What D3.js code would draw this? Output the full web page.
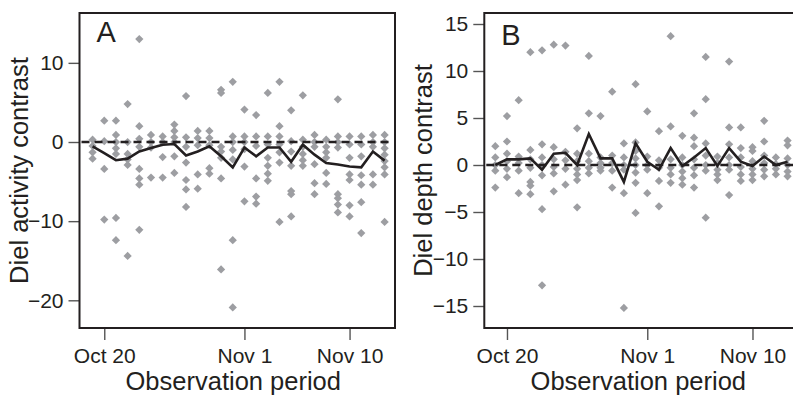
<!DOCTYPE html>
<html>
<head>
<meta charset="utf-8">
<script src="https://cdn.jsdelivr.net/npm/d3@7"></script>
<style>
  body { margin: 0; background: #fff; }
  text { font-family: "Liberation Sans", Arial, sans-serif; fill: #231f20; }
</style>
</head>
<body>
<script>
const width = 793, height = 397;

// observation days (one column of points per day)
const days = [
  "2010-10-19", "2010-10-20", "2010-10-21", "2010-10-22", "2010-10-23", "2010-10-24",
  "2010-10-25", "2010-10-26", "2010-10-27", "2010-10-28", "2010-10-29", "2010-10-30",
  "2010-10-31", "2010-11-01", "2010-11-02", "2010-11-03", "2010-11-04", "2010-11-05",
  "2010-11-06", "2010-11-07", "2010-11-08", "2010-11-09", "2010-11-10", "2010-11-11",
  "2010-11-12", "2010-11-13"
];
const dateTicks = ["2010-10-20", "2010-11-01", "2010-11-10"];
const dateTickLabels = ["Oct 20", "Nov 1", "Nov 10"];

// panel A: diel activity contrast, individual values per day
const activity = [
  [0.3, -0.5, -1.3, -2.1],
  [2.7, 0.1, -3.4, -9.8],
  [2.7, 0.9, 0, -0.8, -1.5, -9.6, -12.4],
  [4.8, 0, -1.5, -2.2, -2.9, -14.4],
  [13.0, 2.0, 0.4, -0.6, -3.4, -4.6, -5.4, -11.1],
  [0.9, 0, -0.7, -4.5],
  [0.7, 0, -1.9, -4.5],
  [2.2, 1.4, 0.6, 0, -1.8, -3.9],
  [5.8, 0.6, -0.6, -2.6, -4.8, -6.0, -8.2],
  [1.4, 0.5, -0.4, -4.1, -5.9],
  [1.4, 0.5, -0.4, -3.3, -4.0],
  [6.6, 6.2, -0.6, -1.2, -2.0, -4.6, -16.1],
  [7.6, 0.7, 0, -1.0, -2.2, -12.4, -20.9],
  [4.1, 0.7, 0, -0.9, -3.1, -7.5],
  [3.4, 0.7, -0.5, -4.6, -6.9, -7.8],
  [6.2, 0.7, -0.3, -2.0, -3.0, -4.0, -4.9],
  [7.6, 2.0, 0.7, -0.3, -1.3, -2.6, -10.1],
  [4.0, 0.1, -1.2, -3.0, -6.2, -6.6, -9.4],
  [5.9, 0.3, -0.6, -1.5, -2.3, -3.0],
  [0.9, 0, -0.6, -2.8, -5.2, -6.6],
  [0.3, -0.6, -1.3, -2.0, -3.9, -5.3],
  [5.4, 0.7, 0, -0.7, -6.6, -7.1, -7.9, -8.9],
  [0.7, -0.3, -2.0, -4.1, -4.8, -8.0, -9.4],
  [0.7, -0.3, -1.8, -4.2, -5.4, -7.6, -11.5],
  [0.9, 0, -0.6, -4.1, -5.4],
  [0.9, 0, -0.8, -1.6, -2.4, -3.2, -4.1, -10.1]
];
const activityMean = [
  -0.55, -1.4, -2.3, -2.1, -1.2, -0.75, -0.35, -0.25, -1.7, -1.2, -0.55, -1.8, -3.2,
  -0.7, -1.8, -0.7, -0.7, -2.5, -0.35, -1.6, -2.65, -2.85, -3.1, -3.2, -1.2, -2.35
];

// panel B: diel depth contrast, individual values per day
const depth = [
  [2.0, 0.8, 0, -0.6, -2.4],
  [5.2, 2.5, 1.2, 0.4, -0.4, -1.3],
  [6.9, 0.9, 0.2, -0.6, -3.0],
  [12.0, 1.6, 0.6, -0.3, -1.8, -2.2, -3.1],
  [12.2, 2.2, 0.8, 0, -1.1, -4.7, -12.8],
  [12.8, 1.9, 0.6, -0.2, -0.9, -2.8],
  [12.7, 1.4, 0.5, -0.4, -2.1],
  [3.9, 1.2, 0.4, -0.4, -1.0, -1.6, -4.5],
  [11.6, 5.5, 1.2, 0.4, -0.3, -0.9],
  [5.2, 0.8, 0.2, -0.3, -0.6],
  [7.8, 1.0, 0.2, -0.6, -2.4],
  [2.3, 0.8, 0, -0.5, -3.0, -15.2],
  [8.6, 2.4, 1.5, 0.7, 0, -0.8, -1.9, -5.1],
  [5.7, 0.9, 0, -0.5, -3.0],
  [3.6, 0.5, -0.3, -1.7, -4.4],
  [13.7, 4.1, 0.6, -0.3, -1.0, -1.9],
  [3.1, 0.8, 0, -0.7, -1.4, -2.1],
  [5.5, 2.9, 2.0, 0.6, -0.3, -1.1, -2.4],
  [11.5, 7.0, 2.3, 1.0, 0, -0.6, -5.6],
  [0.9, 0.2, -0.5, -1.0, -1.6],
  [11.0, 4.0, 2.2, 0.8, 0, -0.5, -3.2],
  [4.0, 1.8, 0.8, -0.2, -1.0, -1.7],
  [1.9, 1.5, 0.4, -0.4, -1.0, -1.6],
  [4.7, 2.5, 1.0, 0.2, -0.5, -1.2],
  [0.8, 0.1, -0.4, -1.0],
  [2.6, 2.1, 0.7, 0, -0.7, -1.2]
];
const depthMean = [
  0, 0.6, 0.6, 0.7, -0.5, 1.2, 1.3, 0, 3.3, 0.7, 0.7, -1.8, 2.3,
  0.35, -0.5, 1.8, -0.1, 0.8, 1.8, -0.1, 1.8, 0.35, -0.1, 0.9, 0, 0.35
];

const activityTicks = [-20, -10, 0, 10];
const depthTicks = [-15, -10, -5, 0, 5, 10, 15];

const parse = d3.utcParse("%Y-%m-%d");
const DAY = 864e5;

const svg = d3.select("body").append("svg")
  .attr("width", width)
  .attr("height", height);

function drawPanel(p) {
  const g = svg.append("g").attr("transform", `translate(${p.left},${p.top})`);
  const w = p.width, h = p.height;

  const ref = parse("2010-10-20").getTime();
  const x = d3.scaleUtc()
    .domain([new Date(ref - p.padLeft * DAY), new Date(ref + p.padRight * DAY)])
    .range([0, w]);
  const y = d3.scaleLinear().domain(p.yDomain).range([h, 0]);

  // points, one column per day
  const pts = [];
  p.values.forEach((vals, i) => vals.forEach(v => pts.push({ d: parse(days[i]), v })));
  g.append("g")
    .selectAll("path")
    .data(pts).enter()
    .append("path")
    .attr("d", d3.symbol(d3.symbolSquare, 34)())
    .attr("transform", d => `translate(${x(d.d)},${y(d.v)}) rotate(45)`)
    .attr("fill", "#9d9ea2");

  // zero reference
  g.append("line")
    .attr("x1", 2).attr("x2", w - 2)
    .attr("y1", y(0)).attr("y2", y(0))
    .attr("stroke", "#231f20")
    .attr("stroke-width", 2.6)
    .attr("stroke-dasharray", "8,5");

  // daily mean
  const line = d3.line()
    .x((d, i) => x(parse(days[i])))
    .y(d => y(d));
  g.append("path")
    .datum(p.mean)
    .attr("d", line)
    .attr("fill", "none")
    .attr("stroke", "#231f20")
    .attr("stroke-width", 2.6);

  // axes
  const yAxis = d3.axisLeft(y).tickValues(p.yTicks).tickSize(11).tickPadding(5);
  const gy = g.append("g").call(yAxis);
  const xAxis = d3.axisBottom(x)
    .tickValues(dateTicks.map(parse))
    .tickFormat((d, i) => dateTickLabels[i])
    .tickSize(12).tickPadding(8);
  const gx = g.append("g").attr("transform", `translate(0,${h})`).call(xAxis);
  [gx, gy].forEach(a => {
    a.select(".domain").remove();
    a.selectAll("line").attr("stroke", "#555").attr("stroke-width", 1.4);
    a.selectAll("text")
      .attr("font-size", 21)
      .attr("font-family", "'Liberation Sans', Arial, sans-serif")
      .attr("fill", "#231f20");
  });

  // frame
  g.append("rect")
    .attr("width", w).attr("height", h)
    .attr("fill", "none")
    .attr("stroke", "#231f20")
    .attr("stroke-width", 2);

  g.append("text")
    .attr("x", p.letterX).attr("y", p.letterY)
    .attr("font-size", 29)
    .text(p.letter);

  g.append("text")
    .attr("transform", `translate(${-52},${h / 2}) rotate(-90)`)
    .attr("text-anchor", "middle")
    .attr("font-size", 25.5)
    .text(p.yTitle);

  g.append("text")
    .attr("x", w / 2 - 4).attr("y", h + 62)
    .attr("text-anchor", "middle")
    .attr("font-size", 25.5)
    .text("Observation period");
}

drawPanel({
  left: 79.5, top: 13, width: 315.5, height: 315,
  padLeft: 2.12, padRight: 24.89,
  yDomain: [-23.5, 16.3], yTicks: activityTicks,
  values: activity, mean: activityMean,
  letter: "A", letterX: 17, letterY: 29,
  yTitle: "Diel activity contrast"
});

drawPanel({
  left: 484.3, top: 13, width: 316, height: 315,
  padLeft: 1.94, padRight: 25.09,
  yDomain: [-17.34, 16.17], yTicks: depthTicks,
  values: depth, mean: depthMean,
  letter: "B", letterX: 17, letterY: 32,
  yTitle: "Diel depth contrast"
});
</script>
</body>
</html>
